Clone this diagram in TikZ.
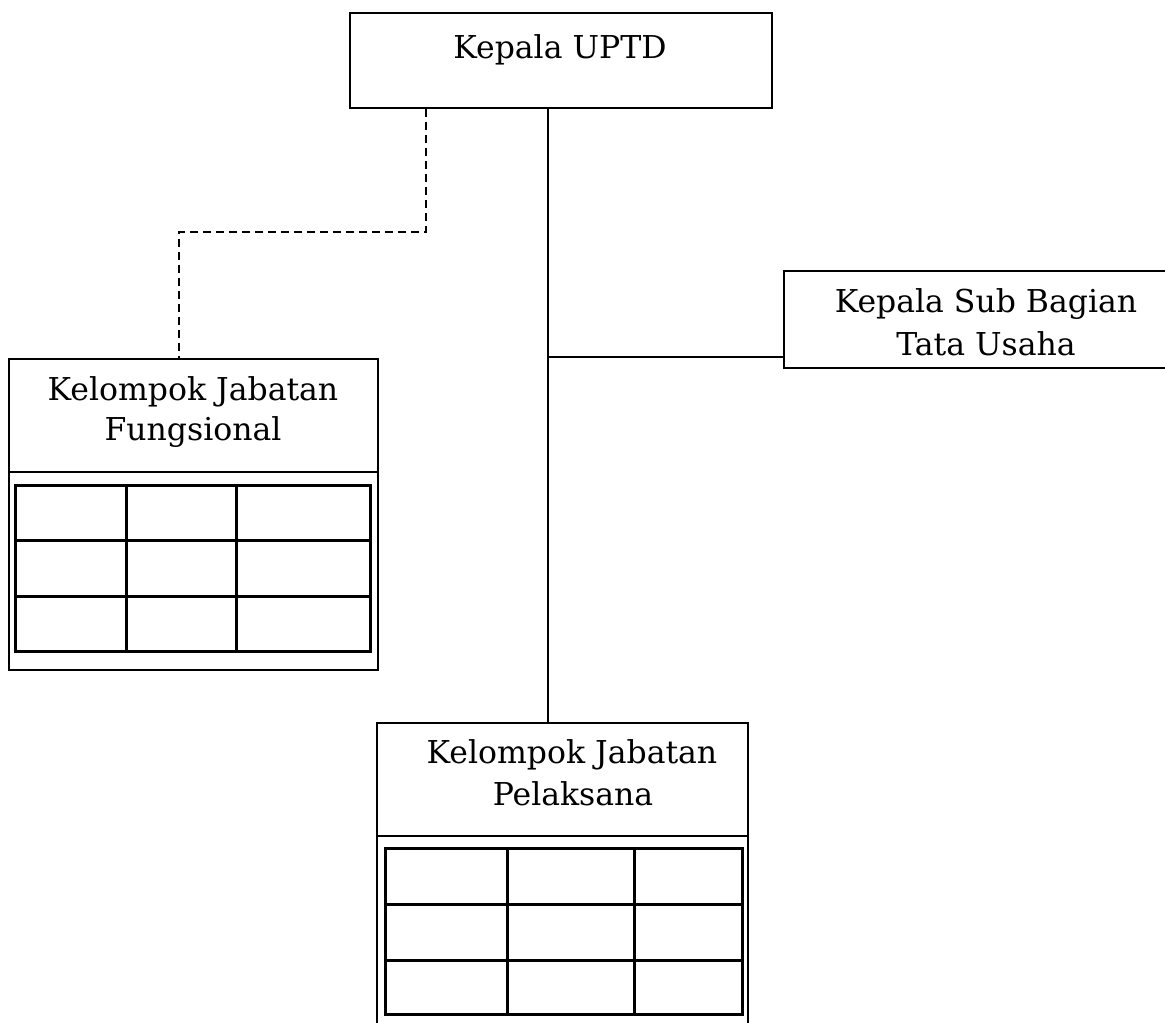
\documentclass[tikz,border=0pt]{standalone}
\usepackage{fontspec}
\setmainfont{DejaVu Serif}
\begin{document}
\begin{tikzpicture}[x=1pt,y=-1pt,
  box/.style={draw=black,line width=2pt,rectangle,inner sep=0pt},
  lbl/.style={font=\fontsize{31.5}{40}\selectfont,align=center,inner sep=0pt,anchor=base},
  conn/.style={draw=black,line width=2pt},
  dconn/.style={draw=black,line width=2pt,dash pattern=on 8pt off 5pt},
  tbl/.style={draw=black,line width=3pt},
  div/.style={draw=black,line width=2pt}]
\clip (0,0) rectangle (1165,1023);
\fill[white] (0,0) rectangle (1165,1023);
% boxes
\node[box,minimum width=422pt,minimum height=95pt] (top) at (561,60.5) {};
\node[box,minimum width=369pt,minimum height=311pt] (fung) at (193.5,514.5) {};
\node[box,minimum width=400pt,minimum height=97pt] (sub) at (984,319.5) {};
\node[box,minimum width=371pt,minimum height=320pt] (pel) at (562.5,883) {};
% texts
\node[lbl] (ttop) at (560,58) {Kepala UPTD};
\node[lbl] (tf1) at (193,400) {Kelompok Jabatan};
\node[lbl] (tf2) at (193,440) {Fungsional};
\node[lbl] (ts1) at (986,312) {Kepala Sub Bagian};
\node[lbl] (ts2) at (986,355) {Tata Usaha};
\node[lbl] (tp1) at (572,763) {Kelompok Jabatan};
\node[lbl] (tp2) at (573,805) {Pelaksana};
% dividers
\draw[div] (fung.west |- 0,472) -- (fung.east |- 0,472);
\draw[div] (pel.west |- 0,836) -- (pel.east |- 0,836);
% tables
\draw[tbl] (15,485) rectangle (370,651);
\draw[tbl] (126,485) -- (126,651) (236,485) -- (236,651);
\draw[tbl] (15,540) -- (370,540) (15,596) -- (370,596);
\draw[tbl] (385,848) rectangle (742,1014);
\draw[tbl] (507,848) -- (507,1014) (634,848) -- (634,1014);
\draw[tbl] (385,904) -- (742,904) (385,960) -- (742,960);
% connectors
\coordinate (j) at (548,357);
\draw[conn] (top.south -| j) -- (j |- pel.north);
\draw[conn] (j) -- (j -| sub.west);
\coordinate (d1) at (426,232);
\coordinate (d2) at (179,232);
\draw[dconn] (d1 |- top.south) -- (d1) -- (d2) -- (d2 |- fung.north);
\end{tikzpicture}
\end{document}
